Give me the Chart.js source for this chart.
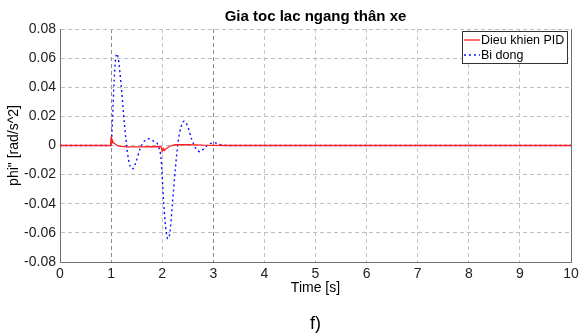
<!DOCTYPE html>
<html lang="vi">
<head>
  <meta charset="UTF-8">
  <title>Gia toc lac ngang thân xe</title>
  <script src="https://cdn.jsdelivr.net/npm/chart.js"></script>
  <style>
    html, body { margin: 0; padding: 0; background: #fff; }
    #chart { display: block; }
  </style>
</head>
<body>
  <canvas id="chart" width="587" height="336"></canvas>
  <script>
    // values
    const pidTime   = [0, 0.99, 1.0, 1.01, 1.02, 1.04, 1.08, 1.15, 1.3, 1.6, 1.9, 1.98, 2.0, 2.02, 2.04, 2.08, 2.15, 2.25, 2.5, 2.8, 3.2, 10];
    const pidValues = [0, 0, 0.006, 0.001, 0.004, 0.002, 0.001, -0.0005, -0.001, -0.0009, -0.0007, -0.001, -0.004, -0.002, -0.0035, -0.002, -0.0005, 0.0005, 0.0006, 0.0002, 0, 0];

    const passiveTime   = [0, 1.0, 1.03, 1.06, 1.09, 1.11, 1.14, 1.2, 1.26, 1.32, 1.37, 1.42, 1.48, 1.56, 1.65, 1.74, 1.83, 1.92, 1.98, 2.03, 2.08, 2.11, 2.15, 2.2, 2.26, 2.31, 2.37, 2.43, 2.5, 2.58, 2.66, 2.74, 2.82, 2.92, 3.03, 3.15, 3.3, 10];
    const passiveValues = [0, 0, 0.02, 0.045, 0.06, 0.063, 0.06, 0.04, 0.015, -0.005, -0.014, -0.016, -0.012, -0.003, 0.003, 0.0046, 0.003, 0, -0.01, -0.04, -0.06, -0.064, -0.06, -0.04, -0.015, 0.002, 0.013, 0.0167, 0.013, 0.004, -0.002, -0.0043, -0.002, 0.001, 0.0018, 0.0005, 0, 0];

    const xTickValues = [0, 1, 2, 3, 4, 5, 6, 7, 8, 9, 10];
    const yTickValues = [-0.08, -0.06, -0.04, -0.02, 0, 0.02, 0.04, 0.06, 0.08];

    const seriesNames = ['Dieu khien PID', 'Bi dong'];
    const FONT = "'Liberation Sans', Arial, sans-serif";

    function toPoints(xs, ys) {
      return xs.map((x, i) => ({ x: x, y: ys[i] }));
    }

    // legend box inside the plot, top right, like MATLAB
    const boxLegend = {
      id: 'boxLegend',
      afterDraw(chart) {
        const { ctx, chartArea } = chart;
        const w = 105, h = 32;
        const left = chartArea.right - 4 - w;
        const top = chartArea.top + 2;
        ctx.save();
        ctx.fillStyle = '#fff';
        ctx.fillRect(left, top, w, h);
        ctx.strokeStyle = '#333';
        ctx.lineWidth = 1;
        ctx.strokeRect(Math.round(left) + 0.5, Math.round(top) + 0.5, w, h);
        ctx.font = '12.5px ' + FONT;
        ctx.textBaseline = 'middle';
        chart.data.datasets.forEach((ds, i) => {
          const y = top + 9 + i * 15;
          ctx.strokeStyle = ds.borderColor;
          ctx.lineWidth = ds.borderWidth;
          ctx.setLineDash(ds.borderDash || []);
          ctx.beginPath();
          ctx.moveTo(left + 2, y);
          ctx.lineTo(left + 18, y);
          ctx.stroke();
          ctx.setLineDash([]);
          ctx.fillStyle = '#000';
          ctx.fillText(ds.label, left + 19, y + 1);
        });
        ctx.restore();
      }
    };

    const rightBorder = {
      id: 'rightBorder',
      afterDatasetsDraw(chart) {
        const { ctx, chartArea } = chart;
        ctx.save();
        ctx.strokeStyle = '#707070';
        ctx.lineWidth = 1;
        ctx.beginPath();
        ctx.moveTo(Math.round(chartArea.right) + 0.5, chartArea.top);
        ctx.lineTo(Math.round(chartArea.right) + 0.5, chartArea.bottom);
        ctx.stroke();
        ctx.restore();
      }
    };

    // title and caption centred over the plot area instead of the canvas;
    // the built-in blocks stay (transparent) to hold the space
    const centredTitles = {
      id: 'centredTitles',
      afterDraw(chart) {
        const { ctx, chartArea } = chart;
        const cx = (chartArea.left + chartArea.right) / 2;
        const textBoxes = chart.boxes.filter(b => !b.axis && b.options && typeof b.options.text === 'string');
        ctx.save();
        ctx.fillStyle = '#000';
        ctx.textAlign = 'center';
        ctx.textBaseline = 'middle';
        textBoxes.forEach(blk => {
          const opts = blk.options;
          const pad = Chart.helpers.toPadding(opts.padding);
          const cy = blk.top + pad.top + (blk.bottom - blk.top - pad.top - pad.bottom) / 2;
          ctx.font = (opts.font.weight === 'bold' ? 'bold ' : '') + opts.font.size + 'px ' + FONT;
          ctx.fillText(opts.text, cx, cy);
        });
        ctx.restore();
      }
    };

    new Chart(document.getElementById('chart'), {
      type: 'line',
      data: {
        datasets: [
          {
            label: seriesNames[0],
            data: toPoints(pidTime, pidValues),
            borderColor: '#ff2020',
            borderWidth: 1.3,
            pointRadius: 0,
            tension: 0,
            order: 0
          },
          {
            label: seriesNames[1],
            data: toPoints(passiveTime, passiveValues),
            borderColor: '#1010ff',
            borderWidth: 1.4,
            borderDash: [2, 3],
            pointRadius: 0,
            cubicInterpolationMode: 'monotone',
            order: 1
          }
        ]
      },
      options: {
        responsive: false,
        animation: false,
        layout: { padding: { left: 0, right: 16, top: 0, bottom: 0 } },
        plugins: {
          legend: { display: false },
          tooltip: { enabled: false },
          title: {
            display: true,
            text: 'Gia toc lac ngang thân xe',
            color: 'rgba(0,0,0,0)',
            font: { family: FONT, size: 15, weight: 'bold' },
            padding: { top: 8, bottom: 3 }
          },
          subtitle: {
            display: true,
            position: 'bottom',
            text: 'f)',
            color: 'rgba(0,0,0,0)',
            font: { family: FONT, size: 18 },
            padding: { top: 16, bottom: 1.4 }
          }
        },
        scales: {
          x: {
            type: 'linear',
            min: 0,
            max: 10,
            afterBuildTicks(scale) { scale.ticks = xTickValues.map(v => ({ value: v })); },
            afterFit(scale) { scale.height = 35; },
            ticks: {
              color: '#222',
              font: { family: FONT, size: 14 },
              padding: 4,
              maxRotation: 0,
              callback: v => String(v)
            },
            grid: {
              drawTicks: false,
              color: ctx => (ctx.tick && (ctx.tick.value === 1 || ctx.tick.value === 3)) ? '#8a8a8a' : '#c4c4c4',
              lineWidth: 1
            },
            border: { display: true, color: '#707070', dash: [4, 3] },
            title: {
              display: true,
              text: 'Time [s]',
              color: '#000',
              font: { family: FONT, size: 14 },
              padding: { top: 0, bottom: 0 }
            }
          },
          y: {
            type: 'linear',
            min: -0.08,
            max: 0.08,
            afterBuildTicks(scale) { scale.ticks = yTickValues.map(v => ({ value: v })); },
            afterFit(scale) { scale.width = 60; },
            ticks: {
              color: '#222',
              font: { family: FONT, size: 14 },
              padding: 4,
              callback: v => v === 0 ? '0' : v.toFixed(2)
            },
            grid: {
              drawTicks: false,
              color: '#bdbdbd',
              lineWidth: 1
            },
            border: { display: true, color: '#707070', dash: [4, 3] },
            title: {
              display: true,
              text: 'phi" [rad/s^2]',
              color: '#000',
              font: { family: FONT, size: 14 },
              padding: { top: 6, bottom: 0 }
            }
          }
        }
      },
      plugins: [boxLegend, rightBorder, centredTitles]
    });
  </script>
</body>
</html>
